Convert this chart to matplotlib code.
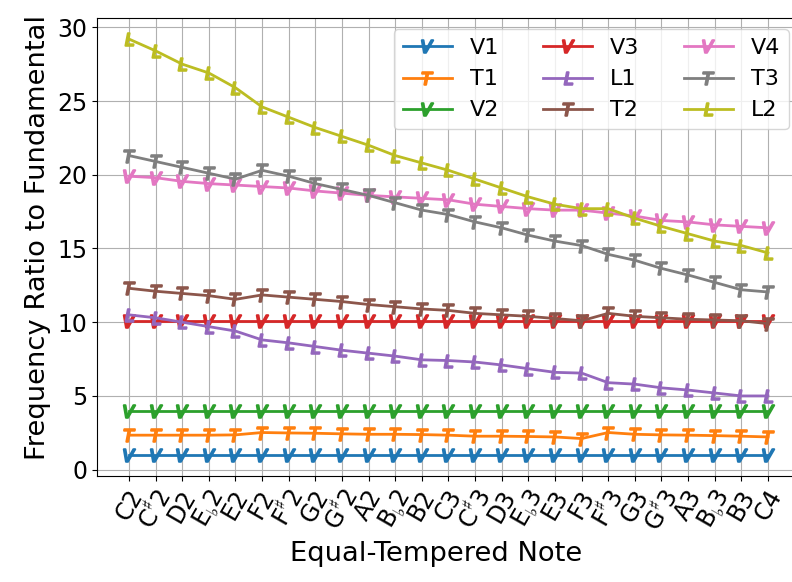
import matplotlib
matplotlib.use("Agg")
import matplotlib.pyplot as plt

notes = ["C2", "C$^\\sharp$2", "D2", "E$_\\flat$2", "E2", "F2", "F$^\\sharp$2", "G2",
         "G$^\\sharp$2", "A2", "B$_\\flat$2", "B2", "C3", "C$^\\sharp$3", "D3", "E$_\\flat$3",
         "E3", "F3", "F$^\\sharp$3", "G3", "G$^\\sharp$3", "A3", "B$_\\flat$3", "B3", "C4"]

V1 = [1.0] * 25
T1 = [2.34, 2.34, 2.34, 2.34, 2.36, 2.52, 2.49, 2.47, 2.43, 2.40, 2.40, 2.38,
      2.34, 2.27, 2.27, 2.25, 2.22, 2.11, 2.52, 2.40, 2.36, 2.34, 2.31, 2.27, 2.22]
V2 = [4.0] * 25
V3 = [10.05] * 25
L1 = [10.5, 10.3, 10.0, 9.7, 9.4, 8.8, 8.6, 8.35, 8.1, 7.9, 7.7, 7.45,
      7.4, 7.3, 7.1, 6.85, 6.6, 6.55, 5.9, 5.8, 5.55, 5.4, 5.2, 5.0, 5.0]
T2 = [12.3, 12.1, 11.95, 11.8, 11.55, 11.85, 11.7, 11.55, 11.4, 11.2, 11.05, 10.9,
      10.8, 10.6, 10.5, 10.4, 10.25, 10.1, 10.6, 10.4, 10.3, 10.2, 10.15, 10.1, 9.9]
V4 = [19.9, 19.8, 19.55, 19.4, 19.3, 19.2, 19.1, 18.9, 18.75, 18.6, 18.5, 18.4,
      18.3, 18.0, 17.85, 17.7, 17.6, 17.6, 17.4, 17.2, 16.9, 16.8, 16.6, 16.5, 16.4]
T3 = [21.3, 20.9, 20.5, 20.1, 19.7, 20.3, 19.9, 19.4, 19.0, 18.6, 18.1, 17.6,
      17.3, 16.8, 16.4, 15.9, 15.5, 15.2, 14.6, 14.2, 13.65, 13.2, 12.7, 12.2, 12.05]
L2 = [29.2, 28.4, 27.5, 26.9, 25.9, 24.6, 23.9, 23.2, 22.6, 22.0, 21.3, 20.8,
      20.3, 19.7, 19.1, 18.5, 18.0, 17.7, 17.7, 17.05, 16.5, 16.0, 15.5, 15.2, 14.7]

series = [("V1", V1, "$V$"), ("T1", T1, "$T$"), ("V2", V2, "$V$"),
          ("V3", V3, "$V$"), ("L1", L1, "$L$"), ("T2", T2, "$T$"),
          ("V4", V4, "$V$"), ("T3", T3, "$T$"), ("L2", L2, "$L$")]

fig = plt.figure(figsize=(7.92, 5.82), dpi=100)
ax = fig.add_axes([0.1225, 0.1826, 0.8875, 0.786])

x = range(len(notes))
for name, vals, mk in series:
    ax.plot(x, vals, marker=mk, markersize=9, markeredgewidth=1.5,
            linewidth=2, label=name)

ax.set_xticks(list(x))
ax.set_xticklabels(notes, rotation=60, fontsize=17)
ax.tick_params(axis="y", labelsize=17)
ax.set_xlabel("Equal-Tempered Note", fontsize=19.7, x=0.483)
ax.set_ylabel("Frequency Ratio to Fundamental", fontsize=19.7, y=0.52)
ax.grid(True)
ax.legend(ncol=3, loc="upper right", fontsize=16, handlelength=2.2)

fig.savefig("out.png", dpi=100)
